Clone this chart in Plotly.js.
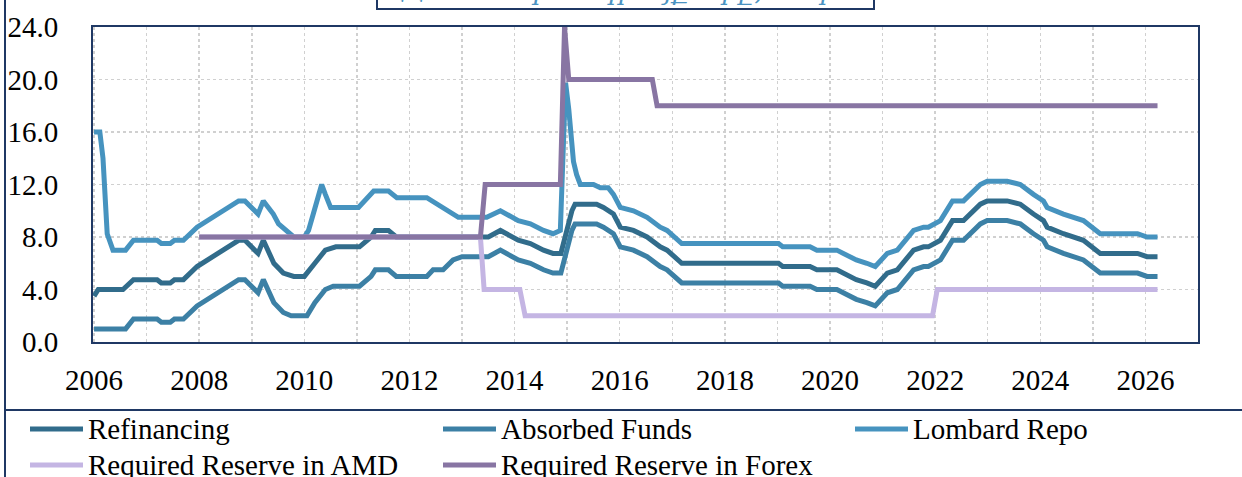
<!DOCTYPE html>
<html><head><meta charset="utf-8">
<script src="https://cdn.plot.ly/plotly-3.0.1.min.js"></script>
<style>html,body{margin:0;padding:0;background:#fff;} #chart{width:1242px;height:477px;}</style>
</head><body><div id="chart"></div>
<script>
// ---- Data (decimal years, percent) ----
const seriesNames = ["Refinancing", "Absorbed Funds", "Lombard Repo", "Required Reserve in AMD", "Required Reserve in Forex"];
const seriesColors = ["#316C8B", "#3C80A5", "#4693BF", "#C4B5E3", "#8875A3"];

const refiX = [2006.0, 2006.08, 2006.55, 2006.75, 2007.2, 2007.28, 2007.45, 2007.53, 2007.7, 2007.96,
  2008.75, 2008.87, 2009.12, 2009.22, 2009.42, 2009.6, 2009.8, 2010.0, 2010.2, 2010.4,
  2010.6, 2011.05, 2011.27, 2011.35, 2011.6, 2011.75,
  2013.5, 2013.73, 2014.07, 2014.3, 2014.55, 2014.73, 2014.88, 2014.99, 2015.09, 2015.15,
  2015.56, 2015.69, 2015.78, 2015.88, 2016.01, 2016.26, 2016.52, 2016.77, 2016.9, 2017.18,
  2019.02, 2019.1, 2019.62, 2019.75, 2020.13, 2020.5, 2020.7, 2020.86, 2021.09, 2021.28,
  2021.59, 2021.78, 2021.87, 2022.1, 2022.33, 2022.54, 2022.86, 2022.99, 2023.37, 2023.62,
  2023.87, 2024.06, 2024.13, 2024.44, 2024.82, 2025.14, 2025.85, 2026.03, 2026.23];
const refiY = [3.5, 4.0, 4.0, 4.75, 4.75, 4.5, 4.5, 4.75, 4.75, 5.75,
  7.75, 7.75, 6.75, 7.75, 6.0, 5.25, 5.0, 5.0, 6.0, 7.0,
  7.25, 7.25, 8.0, 8.5, 8.5, 8.0,
  8.0, 8.5, 7.75, 7.5, 7.0, 6.75, 6.75, 8.5, 10.0, 10.5,
  10.5, 10.25, 10.0, 9.75, 8.75, 8.5, 8.0, 7.25, 7.0, 6.0,
  6.0, 5.75, 5.75, 5.5, 5.5, 4.75, 4.5, 4.25, 5.25, 5.5,
  7.0, 7.25, 7.25, 7.75, 9.25, 9.25, 10.5, 10.75, 10.75, 10.5,
  9.75, 9.25, 8.75, 8.25, 7.75, 6.75, 6.75, 6.5, 6.5];

const absX = [2006.0, 2006.6, 2006.75, 2007.2, 2007.28, 2007.45, 2007.53, 2007.7, 2007.96, 2008.75,
  2008.87, 2009.12, 2009.22, 2009.42, 2009.6, 2009.75, 2010.05, 2010.2, 2010.4, 2010.55,
  2011.05, 2011.27, 2011.35, 2011.6, 2011.75, 2012.33, 2012.45, 2012.64, 2012.83, 2013.0,
  2013.5, 2013.73, 2014.07, 2014.3, 2014.55, 2014.73, 2014.88, 2014.99, 2015.09, 2015.15,
  2015.56, 2015.69, 2015.78, 2015.88, 2016.01, 2016.26, 2016.52, 2016.77, 2016.9, 2017.18,
  2019.02, 2019.1, 2019.62, 2019.75, 2020.13, 2020.5, 2020.7, 2020.86, 2021.09, 2021.28,
  2021.59, 2021.78, 2021.87, 2022.1, 2022.33, 2022.54, 2022.86, 2022.99, 2023.37, 2023.62,
  2023.87, 2024.06, 2024.13, 2024.44, 2024.82, 2025.14, 2025.85, 2026.03, 2026.23];
const absY = [1.0, 1.0, 1.75, 1.75, 1.5, 1.5, 1.75, 1.75, 2.75, 4.75,
  4.75, 3.75, 4.75, 3.0, 2.25, 2.0, 2.0, 3.0, 4.0, 4.25,
  4.25, 5.0, 5.5, 5.5, 5.0, 5.0, 5.5, 5.5, 6.25, 6.5,
  6.5, 7.0, 6.25, 6.0, 5.5, 5.25, 5.25, 7.0, 8.5, 9.0,
  9.0, 8.75, 8.5, 8.25, 7.25, 7.0, 6.5, 5.75, 5.5, 4.5,
  4.5, 4.25, 4.25, 4.0, 4.0, 3.25, 3.0, 2.75, 3.75, 4.0,
  5.5, 5.75, 5.75, 6.25, 7.75, 7.75, 9.0, 9.25, 9.25, 9.0,
  8.25, 7.75, 7.25, 6.75, 6.25, 5.25, 5.25, 5.0, 5.0];

const lomX = [2006.0, 2006.11, 2006.17, 2006.25, 2006.36, 2006.6, 2006.75, 2007.2, 2007.28, 2007.45,
  2007.53, 2007.7, 2007.96, 2008.75, 2008.87, 2009.12, 2009.22, 2009.41, 2009.51, 2009.67,
  2009.8, 2010.0, 2010.08, 2010.17, 2010.27, 2010.33, 2010.4, 2010.5, 2011.03, 2011.19,
  2011.32, 2011.6, 2011.76, 2012.33, 2012.52, 2012.71, 2012.93, 2013.47, 2013.73, 2014.07,
  2014.3, 2014.55, 2014.73, 2014.87, 2014.97, 2015.03, 2015.07, 2015.12, 2015.18, 2015.25,
  2015.5, 2015.63, 2015.78, 2015.88, 2016.01, 2016.26, 2016.52, 2016.77, 2016.9, 2017.18,
  2019.02, 2019.1, 2019.62, 2019.75, 2020.13, 2020.5, 2020.7, 2020.86, 2021.09, 2021.28,
  2021.59, 2021.78, 2021.87, 2022.1, 2022.33, 2022.54, 2022.86, 2022.99, 2023.37, 2023.62,
  2023.87, 2024.06, 2024.13, 2024.44, 2024.82, 2025.14, 2025.85, 2026.03, 2026.23];
const lomY = [16.0, 16.0, 14.0, 8.25, 7.0, 7.0, 7.75, 7.75, 7.5, 7.5,
  7.75, 7.75, 8.75, 10.75, 10.75, 9.75, 10.75, 9.75, 9.0, 8.5,
  8.0, 8.0, 8.5, 9.75, 11.25, 12.0, 11.25, 10.25, 10.25, 11.0,
  11.5, 11.5, 11.0, 11.0, 10.5, 10.0, 9.5, 9.5, 10.0, 9.25,
  9.0, 8.5, 8.25, 8.5, 19.75, 17.75, 15.5, 13.75, 12.75, 12.0,
  12.0, 11.75, 11.75, 11.25, 10.25, 10.0, 9.5, 8.75, 8.5, 7.5,
  7.5, 7.25, 7.25, 7.0, 7.0, 6.25, 6.0, 5.75, 6.75, 7.0,
  8.5, 8.75, 8.75, 9.25, 10.75, 10.75, 12.0, 12.25, 12.25, 12.0,
  11.25, 10.75, 10.25, 9.75, 9.25, 8.25, 8.25, 8.0, 8.0];

const amdX = [2008.0, 2013.35, 2013.42, 2014.1, 2014.2, 2021.95, 2022.04, 2026.23];
const amdY = [8.0, 8.0, 4.0, 4.0, 2.0, 2.0, 4.0, 4.0];

const fxX = [2008.0, 2013.35, 2013.44, 2014.87, 2014.95, 2015.03, 2016.62, 2016.71, 2026.23];
const fxY = [8.0, 8.0, 12.0, 12.0, 24.0, 20.0, 20.0, 18.0, 18.0];

const yTicks = [0, 4, 8, 12, 16, 20, 24];
const xTicks = [2006, 2008, 2010, 2012, 2014, 2016, 2018, 2020, 2022, 2024, 2026];
const titleText = "ՀՀ ԿԲ տոկոսադրույքները, տոկոս";

// ---- Geometry helpers (pixel -> paper) ----
const W = 1242, H = 477, L = 93, R = 1198, T = 27, B = 342;
const px = x => (x - L) / (R - L);
const py = y => (B - y) / (B - T);
const FONT = "Liberation Serif, Times New Roman, serif";
const FS = 29;
const NAVY = "#1F3864";

const xs = [refiX, absX, lomX, amdX, fxX];
const ys = [refiY, absY, lomY, amdY, fxY];
const traces = xs.map((x, i) => ({
  x: x, y: ys[i], type: "scatter", mode: "lines", name: seriesNames[i],
  line: {color: seriesColors[i], width: 5}, showlegend: false, hoverinfo: "x+y+name"
}));

const shapes = [
  // outer frame pieces
  {type: "line", xref: "paper", yref: "paper", x0: px(5), x1: px(5), y0: py(-5), y1: py(H + 5), line: {color: NAVY, width: 2}},
  {type: "line", xref: "paper", yref: "paper", x0: px(5), x1: px(W + 5), y0: py(410), y1: py(410), line: {color: NAVY, width: 2}},
  // title box
  {type: "rect", xref: "paper", yref: "paper", x0: px(377), x1: px(874), y0: py(9), y1: py(-40), line: {color: NAVY, width: 2}, fillcolor: "rgba(0,0,0,0)"}
];
const annotations = [
  {xref: "paper", yref: "paper", x: px(625), y: py(8), xanchor: "center", yanchor: "bottom", showarrow: false,
   text: "<i>" + titleText + "</i>", font: {family: "DejaVu Serif, serif", size: 26, color: "#4A93C2"}}
];
// custom legend: 3 columns x 2 rows
const colX = [30, 443, 855], rowY = [429, 465], symLen = 53;
seriesNames.forEach((n, i) => {
  const c = i % 3, r = Math.floor(i / 3);
  shapes.push({type: "line", xref: "paper", yref: "paper", x0: px(colX[c]), x1: px(colX[c] + symLen),
    y0: py(rowY[r]), y1: py(rowY[r]), line: {color: seriesColors[i], width: 5}});
  annotations.push({xref: "paper", yref: "paper", x: px(colX[c] + symLen + 3), y: py(rowY[r]),
    xanchor: "left", yanchor: "middle", showarrow: false, text: n,
    font: {family: FONT, size: FS, color: "#000"}});
});

const layout = {
  width: W, height: H,
  margin: {l: L, r: W - R, t: T, b: H - B, pad: 0},
  paper_bgcolor: "#fff", plot_bgcolor: "#fff",
  font: {family: FONT, size: FS, color: "#000"},
  showlegend: false,
  xaxis: {
    range: [2005.98, 2027.0], tickmode: "array", tickvals: xTicks, ticktext: xTicks.map(String),
    showgrid: true, gridcolor: "#D0D0D0", griddash: "dot", gridwidth: 1.5,
    minor: {dtick: 1, showgrid: true, gridcolor: "#D0D0D0", griddash: "dot", gridwidth: 1.5},
    showline: true, mirror: true, linecolor: NAVY, linewidth: 2,
    ticks: "", zeroline: false, ticklabelstandoff: 11,
    tickfont: {family: FONT, size: FS, color: "#000"}
  },
  yaxis: {
    range: [0, 24], tickmode: "array", tickvals: yTicks, ticktext: yTicks.map(v => v.toFixed(1)),
    showgrid: true, gridcolor: "#D0D0D0", griddash: "dot", gridwidth: 1.5,
    showline: true, mirror: true, linecolor: NAVY, linewidth: 2,
    ticks: "", zeroline: false, ticklabelstandoff: 27,
    tickfont: {family: FONT, size: FS, color: "#000"}
  },
  shapes: shapes,
  annotations: annotations
};

Plotly.newPlot("chart", traces, layout, {displayModeBar: false, staticPlot: true});
</script></body></html>
